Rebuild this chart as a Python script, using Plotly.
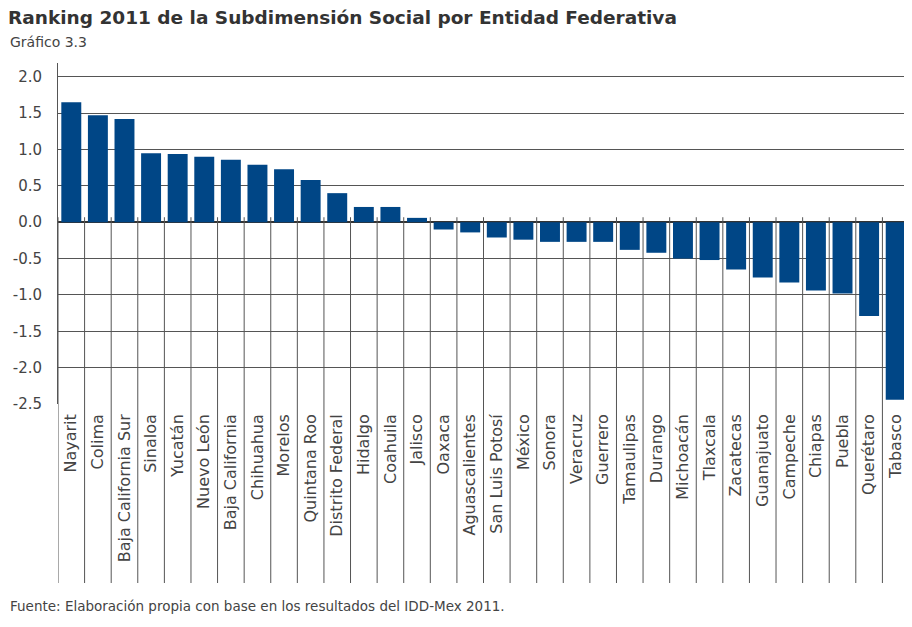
import plotly.graph_objects as go

# la página añade 8 px de margen al cuerpo; la figura se reduce en esa cantidad
W, H = 904, 619
ML, MR, MT, MB = 50, 3, 55, 223

estados = [
    "Nayarit", "Colima", "Baja California Sur", "Sinaloa", "Yucatán", "Nuevo León",
    "Baja California", "Chihuahua", "Morelos", "Quintana Roo", "Distrito Federal",
    "Hidalgo", "Coahuila", "Jalisco", "Oaxaca", "Aguascalientes", "San Luis Potosí",
    "México", "Sonora", "Veracruz", "Guerrero", "Tamaulipas", "Durango", "Michoacán",
    "Tlaxcala", "Zacatecas", "Guanajuato", "Campeche", "Chiapas", "Puebla",
    "Querétaro", "Tabasco",
]
valores = [
    1.65, 1.47, 1.42, 0.95, 0.94, 0.90,
    0.86, 0.79, 0.73, 0.58, 0.40,
    0.21, 0.21, 0.06, -0.10, -0.14, -0.21,
    -0.24, -0.27, -0.27, -0.27, -0.38, -0.42, -0.50,
    -0.52, -0.65, -0.76, -0.83, -0.94, -0.98,
    -1.29, -2.44,
]
y_ticks = [2.0, 1.5, 1.0, 0.5, 0.0, -0.5, -1.0, -1.5, -2.0, -2.5]
y_labels = ["2.0", "1.5", "1.0", "0.5", "0.0", "-0.5", "-1.0", "-1.5", "-2.0", "-2.5"]

y_min, y_max = -2.5, 2.19
ph = H - MT - MB
pw = W - ML - MR

FONT = "DejaVu Sans"
AZUL = "#004686"
GRIS = "#555555"

fig = go.Figure(go.Bar(
    x=estados, y=valores, marker_color=AZUL, marker_line_width=0,
))

# separadores de categorías: desde el eje cero hasta debajo de las etiquetas
y_top = (0 - y_min) / (y_max - y_min) + 5 / ph
y_bot = -179 / ph
shapes = []
for i in range(len(estados) + 1):
    shapes.append(dict(type="line", xref="x", yref="paper",
                       x0=i - 0.5, x1=i - 0.5, y0=y_top, y1=y_bot,
                       line=dict(color=GRIS, width=1), layer="above"))

fig.update_layout(
    width=W, height=H,
    margin=dict(l=ML, r=MR, t=MT, b=MB),
    paper_bgcolor="white", plot_bgcolor="white",
    showlegend=False,
    bargap=0.25,
    font=dict(family=FONT, color="#444444"),
    title=dict(text="<b>Ranking 2011 de la Subdimensión Social por Entidad Federativa</b>",
               xref="container", yref="container", x=0, y=1 - 3 / H,
               xanchor="left", yanchor="top", pad=dict(t=0, l=0),
               font=dict(size=18.5, color="#333333", family=FONT)),
    shapes=shapes,
    annotations=[
        dict(text="Gráfico 3.3", xref="paper", yref="paper",
             x=-ML / pw, y=1 + (MT - 34) / ph, xanchor="left", yanchor="middle",
             showarrow=False, font=dict(size=14, color="#444444", family=FONT)),
        dict(text="Fuente: Elaboración propia con base en los resultados del IDD-Mex 2011.",
             xref="paper", yref="paper",
             x=-ML / pw, y=-(598 - (H - MB)) / ph, xanchor="left", yanchor="middle",
             showarrow=False, font=dict(size=13.5, color="#444444", family=FONT)),
    ],
)

fig.update_xaxes(
    type="category", range=[-0.5, len(estados) - 0.5],
    showgrid=False, zeroline=False, showline=False,
    ticks="", tickangle=-90, ticklabelstandoff=6,
    tickfont=dict(size=16, color="#444444", family=FONT),
)
fig.update_yaxes(
    range=[y_min, y_max], tickvals=y_ticks, ticktext=y_labels,
    showgrid=True, gridcolor=GRIS, gridwidth=1,
    zeroline=True, zerolinecolor="#333333", zerolinewidth=2,
    showline=True, linecolor=GRIS, linewidth=1,
    ticks="", ticklabelstandoff=12,
    tickfont=dict(size=15, color="#444444", family=FONT),
)

fig.write_html("out.html")
